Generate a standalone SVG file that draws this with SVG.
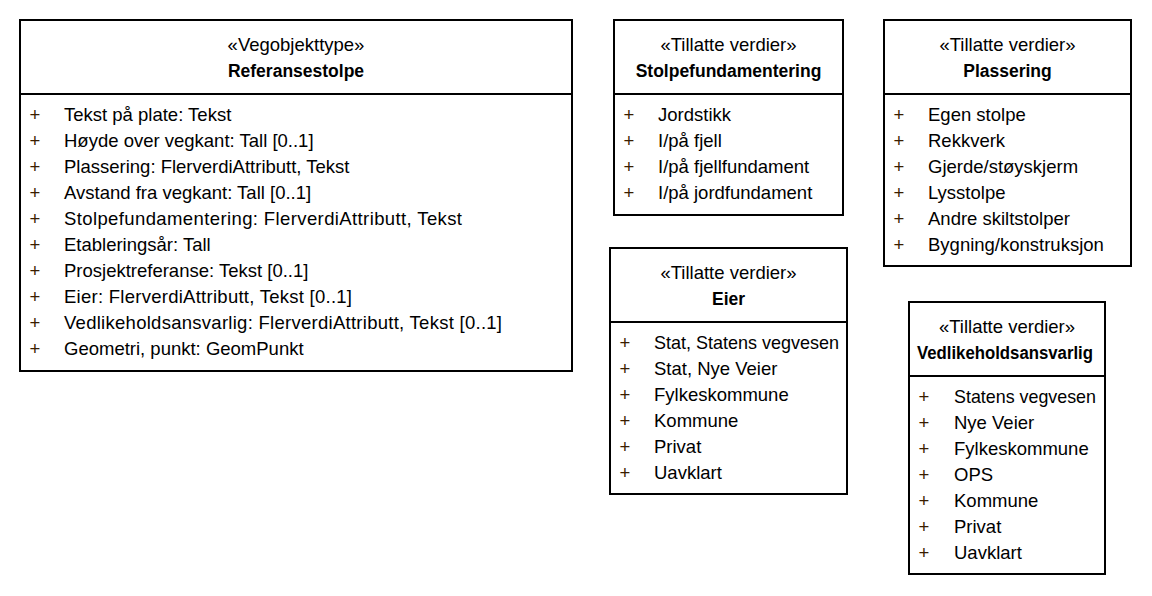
<svg xmlns="http://www.w3.org/2000/svg" width="1152" height="596" viewBox="0 0 1152 596">
<style>
.box{fill:#fff;stroke:#000;stroke-width:2}
.div{stroke:#000;stroke-width:2}
text{font-family:"Liberation Sans",Arial,sans-serif;fill:#000}
.st{font-size:18.5px;text-anchor:middle}
.nm{font-size:17.5px;font-weight:bold;text-anchor:middle}
.at{font-size:18.5px}
.pl{font-size:18.5px;text-anchor:middle;fill:#3a1d00}
</style>
<rect width="1152" height="596" fill="#fff"/>
<g id="Referansestolpe">
<rect class="box" x="20" y="20" width="552" height="351"/>
<line class="div" x1="20" y1="94" x2="572" y2="94"/>
<text class="st" x="296" y="51">«Vegobjekttype»</text>
<text class="nm" x="296" y="77">Referansestolpe</text>
<g>
<text class="pl" x="35" y="121">+</text><text class="at" x="64" y="121">Tekst på plate: Tekst</text>
<text class="pl" x="35" y="147">+</text><text class="at" x="64" y="147">Høyde over vegkant: Tall [0..1]</text>
<text class="pl" x="35" y="173">+</text><text class="at" x="64" y="173">Plassering: FlerverdiAttributt, Tekst</text>
<text class="pl" x="35" y="199">+</text><text class="at" x="64" y="199">Avstand fra vegkant: Tall [0..1]</text>
<text class="pl" x="35" y="225">+</text><text class="at" x="64" y="225" textLength="398" lengthAdjust="spacing">Stolpefundamentering: FlerverdiAttributt, Tekst</text>
<text class="pl" x="35" y="251">+</text><text class="at" x="64" y="251">Etableringsår: Tall</text>
<text class="pl" x="35" y="277">+</text><text class="at" x="64" y="277">Prosjektreferanse: Tekst [0..1]</text>
<text class="pl" x="35" y="303">+</text><text class="at" x="64" y="303" textLength="288" lengthAdjust="spacing">Eier: FlerverdiAttributt, Tekst [0..1]</text>
<text class="pl" x="35" y="329">+</text><text class="at" x="64" y="329" textLength="438" lengthAdjust="spacing">Vedlikeholdsansvarlig: FlerverdiAttributt, Tekst [0..1]</text>
<text class="pl" x="35" y="355">+</text><text class="at" x="64" y="355">Geometri, punkt: GeomPunkt</text>
</g>
</g>
<g id="Stolpefundamentering">
<rect class="box" x="614" y="20" width="229" height="195"/>
<line class="div" x1="614" y1="94" x2="843" y2="94"/>
<text class="st" x="728.5" y="51">«Tillatte verdier»</text>
<text class="nm" x="728.5" y="77">Stolpefundamentering</text>
<text class="pl" x="629" y="121">+</text><text class="at" x="658" y="121">Jordstikk</text>
<text class="pl" x="629" y="147">+</text><text class="at" x="658" y="147">I/på fjell</text>
<text class="pl" x="629" y="173">+</text><text class="at" x="658" y="173">I/på fjellfundament</text>
<text class="pl" x="629" y="199">+</text><text class="at" x="658" y="199">I/på jordfundament</text>
</g>
<g id="Plassering">
<rect class="box" x="884" y="20" width="247" height="246"/>
<line class="div" x1="884" y1="94" x2="1131" y2="94"/>
<text class="st" x="1007.5" y="51">«Tillatte verdier»</text>
<text class="nm" x="1007.5" y="77">Plassering</text>
<text class="pl" x="899" y="121">+</text><text class="at" x="928" y="121">Egen stolpe</text>
<text class="pl" x="899" y="147">+</text><text class="at" x="928" y="147">Rekkverk</text>
<text class="pl" x="899" y="173">+</text><text class="at" x="928" y="173">Gjerde/støyskjerm</text>
<text class="pl" x="899" y="199">+</text><text class="at" x="928" y="199">Lysstolpe</text>
<text class="pl" x="899" y="225">+</text><text class="at" x="928" y="225">Andre skiltstolper</text>
<text class="pl" x="899" y="251">+</text><text class="at" x="928" y="251">Bygning/konstruksjon</text>
</g>
<g id="Eier">
<rect class="box" x="610" y="248" width="237" height="246"/>
<line class="div" x1="610" y1="322" x2="847" y2="322"/>
<text class="st" x="728.5" y="279">«Tillatte verdier»</text>
<text class="nm" x="728.5" y="305">Eier</text>
<text class="pl" x="625" y="349">+</text><text class="at" x="654" y="349" textLength="185" lengthAdjust="spacingAndGlyphs">Stat, Statens vegvesen</text>
<text class="pl" x="625" y="375">+</text><text class="at" x="654" y="375">Stat, Nye Veier</text>
<text class="pl" x="625" y="401">+</text><text class="at" x="654" y="401">Fylkeskommune</text>
<text class="pl" x="625" y="427">+</text><text class="at" x="654" y="427">Kommune</text>
<text class="pl" x="625" y="453">+</text><text class="at" x="654" y="453">Privat</text>
<text class="pl" x="625" y="479">+</text><text class="at" x="654" y="479">Uavklart</text>
</g>
<g id="Vedlikeholdsansvarlig">
<rect class="box" x="909" y="302" width="196" height="272"/>
<line class="div" x1="909" y1="376" x2="1105" y2="376"/>
<text class="st" x="1007" y="333">«Tillatte verdier»</text>
<text class="nm" x="1005" y="359" textLength="176" lengthAdjust="spacingAndGlyphs">Vedlikeholdsansvarlig</text>
<text class="pl" x="924" y="403">+</text><text class="at" x="954" y="403" textLength="142" lengthAdjust="spacingAndGlyphs">Statens vegvesen</text>
<text class="pl" x="924" y="429">+</text><text class="at" x="954" y="429">Nye Veier</text>
<text class="pl" x="924" y="455">+</text><text class="at" x="954" y="455">Fylkeskommune</text>
<text class="pl" x="924" y="481">+</text><text class="at" x="954" y="481">OPS</text>
<text class="pl" x="924" y="507">+</text><text class="at" x="954" y="507">Kommune</text>
<text class="pl" x="924" y="533">+</text><text class="at" x="954" y="533">Privat</text>
<text class="pl" x="924" y="559">+</text><text class="at" x="954" y="559">Uavklart</text>
</g>
<g id="connectors"/>
</svg>
